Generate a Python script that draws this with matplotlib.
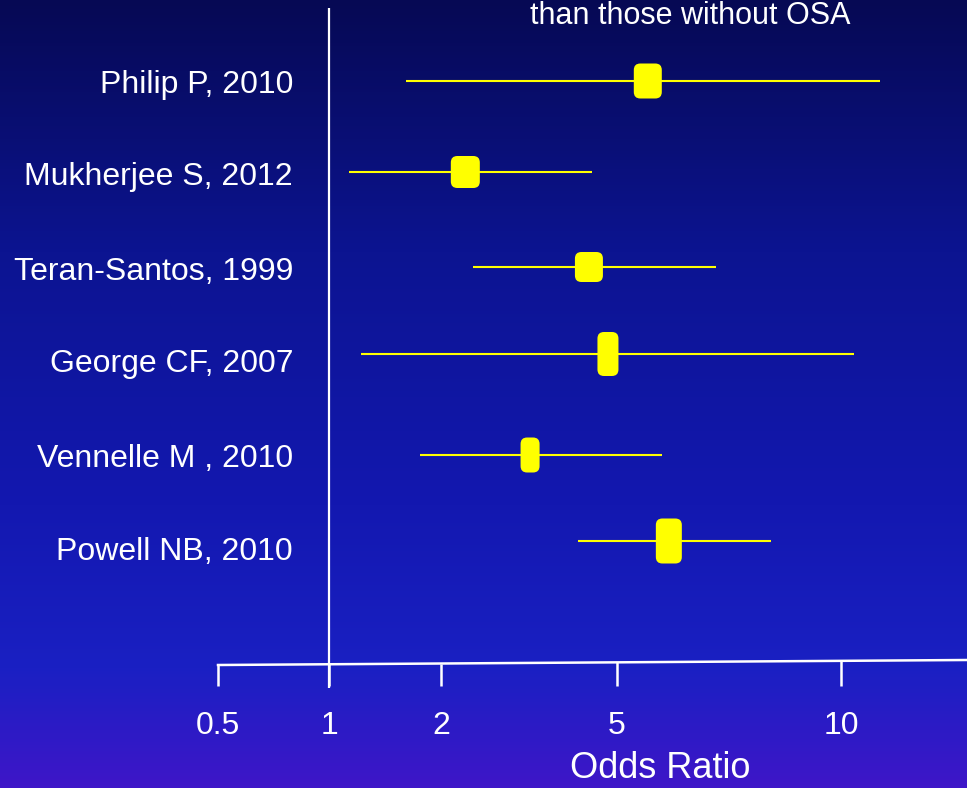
import numpy as np
import matplotlib
matplotlib.use("Agg")
import matplotlib.pyplot as plt
from matplotlib.patches import FancyBboxPatch
from matplotlib.transforms import ScaledTranslation, blended_transform_factory
from matplotlib.colors import LinearSegmentedColormap

# ---------------- data ----------------
studies = ["Philip P, 2010", "Mukherjee S, 2012", "Teran-Santos, 1999",
           "George CF, 2007", "Vennelle M , 2010", "Powell NB, 2010"]
odds_ratio = [5.5, 2.27, 4.32, 4.77, 3.18, 5.87]
ci_low = [1.61, 1.13, 2.36, 1.22, 1.76, 4.08]
ci_high = [11.3, 4.39, 6.8, 10.4, 5.74, 8.05]
weight_w = [28, 29, 28, 21, 19, 26]   # marker box width (px)
weight_h = [35, 32, 30, 44, 35, 45]   # marker box height (px)
tick_values = [0.5, 1, 2, 5, 10]
tick_labels = ["0.5", "1", "2", "5", "10"]
title_text = "than those without OSA"
xlabel_text = "Odds Ratio"

# ---------------- layout ----------------
W, H, DPI = 967, 788, 100
tick_px = [218, 329, 441, 617, 841]
row_y = [81, 172, 267, 354, 455, 541]
label_y = [81, 173, 268, 360, 455, 549]

lt = np.log10(tick_values)
tp = np.array(tick_px, float)
s0 = (tp[1] - tp[0]) / (lt[1] - lt[0])
s1 = (tp[-1] - tp[-2]) / (lt[-1] - lt[-2])
LX = np.concatenate([[lt[0] - 5], lt, [lt[-1] + 5]])
PX = np.concatenate([[tp[0] - 5 * s0], tp, [tp[-1] + 5 * s1]])


def fwd(v):
    v = np.asarray(v, float)
    return np.interp(np.log10(np.clip(v, 1e-6, None)), LX, PX)


def inv(p):
    return 10 ** np.interp(np.asarray(p, float), PX, LX)


fig = plt.figure(figsize=(W / DPI, H / DPI), dpi=DPI)

# gradient background
bg = fig.add_axes([0, 0, 1, 1])
bg.set_axis_off()
cmap = LinearSegmentedColormap.from_list("bg", [
    (0.0, (6/255, 9/255, 84/255)),
    (0.32, (12/255, 20/255, 145/255)),
    (0.64, (19/255, 24/255, 176/255)),
    (0.85, (26/255, 32/255, 195/255)),
    (1.0, (62/255, 22/255, 200/255)),
])
grad = np.linspace(0, 1, 256).reshape(-1, 1)
bg.imshow(grad, aspect="auto", cmap=cmap, extent=[0, 1, 1, 0])
bg.set_xlim(0, 1)
bg.set_ylim(1, 0)

ax = fig.add_axes([0, 0, 1, 1])
ax.patch.set_alpha(0)
ax.set_xscale("function", functions=(fwd, inv))
ax.set_xlim(float(inv(0)), float(inv(W)))
ax.set_ylim(H, 0)
ax.set_axis_off()

white = "white"
yellow = "#FFFF00"
sans = ["Liberation Sans", "DejaVu Sans"]

# vertical reference line at OR = 1
ax.plot([1, 1], [8, 688], color=white, lw=1.6, solid_capstyle="butt")

# x axis line (slightly tilted as in the slide)
ax.plot([0.5, float(inv(W))], [665, 660], color=white, lw=1.8)
for v in tick_values:
    yax = 665 + (660 - 665) * (fwd(v) - fwd(0.5)) / (W - fwd(0.5))
    ax.plot([v, v], [yax, 686], color=white, lw=1.8, solid_capstyle="butt")
for v, lab in zip(tick_values, tick_labels):
    ax.text(v, 722, lab, color=white, fontsize=23, ha="center",
            va="center_baseline", family=sans)
ax.text(inv(660), 778, xlabel_text, color=white, fontsize=26, ha="center",
        va="baseline", family=sans)

# title fragment
ax.text(inv(690), 24, title_text, color=white, fontsize=22, ha="center",
        va="baseline", family=sans)

# study labels
tlab = blended_transform_factory(ax.transAxes, ax.transData)
for name, yl in zip(studies, label_y):
    ax.text(293 / W, yl, name, color=white, fontsize=23, ha="right",
            va="center_baseline", transform=tlab, family=sans)

# forest plot rows
for y, o, lo, hi, w, h in zip(row_y, odds_ratio, ci_low, ci_high,
                              weight_w, weight_h):
    ax.plot([lo, hi], [y, y], color=yellow, lw=1.5, solid_capstyle="butt")
    tr = fig.dpi_scale_trans + ScaledTranslation(o, y, ax.transData)
    box = FancyBboxPatch((-w / 2 / DPI, -h / 2 / DPI), w / DPI, h / DPI,
                         boxstyle="round,pad=0,rounding_size=0.065",
                         transform=tr, facecolor=yellow, edgecolor="none",
                         zorder=5)
    ax.add_patch(box)

fig.savefig("out.png", dpi=DPI)
